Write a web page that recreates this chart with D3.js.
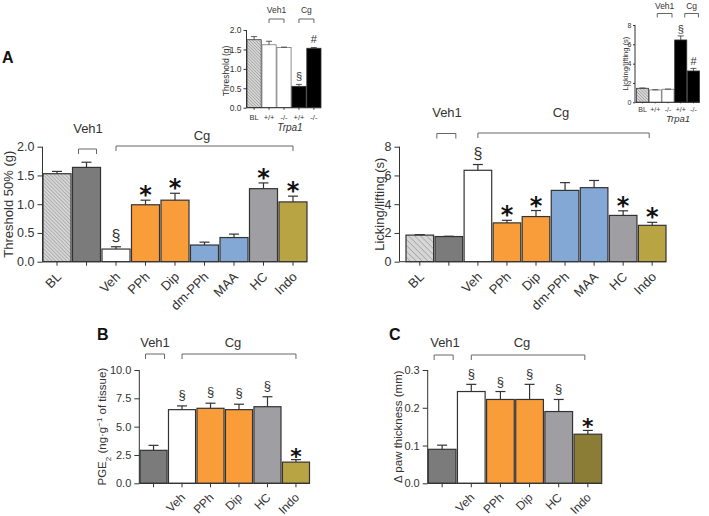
<!DOCTYPE html>
<html><head><meta charset="utf-8">
<script src="https://cdn.jsdelivr.net/npm/d3@7"></script>
<style>body{margin:0;background:#fff}svg{display:block}text{font-family:"Liberation Sans",Arial,sans-serif;fill:#333}</style>
</head><body><svg id="c" width="709" height="516"></svg>
<script>
// ---------- DATA ----------
const catsA = ["BL","","Veh","PPh","Dip","dm-PPh","MAA","HC","Indo"];
const threshA = [1.53,1.64,0.22,0.99,1.07,0.29,0.42,1.27,1.04];
const threshAErr = [0.04,0.09,0.04,0.08,0.12,0.05,0.06,0.10,0.10];
const lickA = [1.85,1.75,6.36,2.70,3.14,4.96,5.15,3.22,2.53];
const lickAErr = [0.03,0.02,0.40,0.18,0.42,0.54,0.50,0.32,0.21];
const colorsA = ["hatch","#7b7b7b","#ffffff","#f99d3a","#f99d3a","#84a8d6","#84a8d6","#9e9ea3","#b9a444"];
const marksThreshA = ["","","§","*","*","","","*","*"];
const marksLickA = ["","","§","*","*","","","*","*"];

const catsInset = ["BL","+/+","-/-","+/+","-/-"];
const threshInset = [1.75,1.62,1.55,0.55,1.53];
const threshInsetErr = [0.08,0.09,0.01,0.05,0.02];
const lickInset = [1.45,1.28,1.35,6.45,3.24];
const lickInsetErr = [0.03,0.02,0.02,0.42,0.27];
const colorsInset = ["hatch","#ffffff","#ffffff","#000000","#000000"];
const marksInset = ["","","","§","#"];

const catsBC = ["","Veh","PPh","Dip","HC","Indo"];
const pgeB = [2.91,6.50,6.62,6.50,6.76,1.87];
const pgeBErr = [0.44,0.33,0.45,0.48,0.88,0.22];
const colorsB = ["#7b7b7b","#ffffff","#f99d3a","#f99d3a","#9e9ea3","#b9a444"];
const marksB = ["","§","§","§","§","*"];
const pawC = [0.09,0.243,0.222,0.222,0.19,0.13];
const pawCErr = [0.011,0.019,0.021,0.040,0.032,0.010];
const colorsC = ["#7b7b7b","#ffffff","#f99d3a","#f99d3a","#9e9ea3","#8b7c36"];
const marksC = ["","§","§","§","§","*"];

const ticksThresh = [0,0.5,1.0,1.5,2.0];
const ticksLick = [0,2,4,6,8];
const ticksPGE = [0,2.5,5,7.5,10];
const ticksPaw = [0,0.1,0.2,0.3];

// ---------- DRAW ----------
const svg = d3.select("#c");
const defs = svg.append("defs");
function hatch(id, sp){
  const p = defs.append("pattern").attr("id",id).attr("patternUnits","userSpaceOnUse")
    .attr("width",sp).attr("height",sp).attr("patternTransform","rotate(-45)");
  p.append("rect").attr("width",sp).attr("height",sp).attr("fill","#d6d6d6");
  p.append("line").attr("x1",0).attr("y1",0).attr("x2",0).attr("y2",sp)
    .attr("stroke","#8c8c8c").attr("stroke-width",1);
}
hatch("h3",2.6); hatch("h5",4.2); hatch("h2",2.2);
let pathId = 0;

function panel(o){
  const g = svg.append("g");
  const n = o.vals.length;
  const x = d3.scaleBand().domain(d3.range(n)).range([o.b0,o.b1]).paddingInner(o.pad||0.05);
  const y = d3.scaleLinear().domain([0,o.max]).range([o.yb,o.yt]);
  const ink = "#333";
  g.selectAll("rect.bar").data(o.vals).join("rect")
    .attr("x",(d,i)=>x(i)).attr("width",x.bandwidth())
    .attr("y",d=>y(d)).attr("height",d=>y(0)-y(d))
    .attr("fill",(d,i)=>o.colors[i]==="hatch"?`url(#${o.hatch})`:o.colors[i])
    .attr("stroke",(d,i)=>o.colors[i]==="#ffffff"&&o.inset?"#777":ink).attr("stroke-width",o.inset?0.8:1.2);
  const cw = o.cap;
  o.vals.forEach((v,i)=>{
    const cx = x(i)+x.bandwidth()/2, t = y(v+o.errs[i]);
    g.append("line").attr("x1",cx).attr("x2",cx).attr("y1",y(v)).attr("y2",t).attr("stroke",ink).attr("stroke-width",o.inset?0.8:1.2);
    g.append("line").attr("x1",cx-cw/2).attr("x2",cx+cw/2).attr("y1",t).attr("y2",t).attr("stroke",ink).attr("stroke-width",o.inset?0.8:1.2);
    const m = o.marks[i];
    if(m){
      const fs = m==="*"?o.starFs:(m==="#"?o.hashFs:o.secFs);
      const off = m==="*"?o.starOff:(m==="#"?o.hashOff:o.secOff);
      g.append("text").attr("x",cx).attr("y",t-off).attr("text-anchor","middle")
        .style("font-size",fs+"px").style("font-weight",m==="*"?"bold":"normal")
        .style("font-family",m==="*"?"'DejaVu Sans',sans-serif":null)
        .style("fill",m==="*"?"#111":"#333").text(m);
    }
  });
  const ya = g.append("g").attr("transform",`translate(${o.ax},0)`)
    .call(d3.axisLeft(y).tickValues(o.ticks).tickFormat(d3.format(o.fmt)).tickSize(o.tick).tickSizeOuter(0).tickPadding(o.tpad));
  ya.select(".domain").attr("stroke",ink).attr("d",`M0,${o.yb}V${o.yt}`);
  ya.selectAll(".tick line").attr("stroke",ink);
  ya.selectAll(".tick text").style("font-size",o.tfs+"px").style("font-family","'Liberation Sans',Arial,sans-serif").attr("fill","#333");
  g.append("line").attr("x1",o.ax).attr("x2",o.b1).attr("y1",o.yb).attr("y2",o.yb).attr("stroke",ink).attr("stroke-width",1);
  o.vals.forEach((v,i)=>{
    const cx = x(i)+x.bandwidth()/2;
    g.append("line").attr("x1",cx).attr("x2",cx).attr("y1",o.yb).attr("y2",o.yb+o.tick-1).attr("stroke",ink);
    if(o.inset){
      g.append("text").attr("x",cx).attr("y",o.catY).attr("text-anchor","middle").style("font-size",o.cfs+"px").text(o.cats[i]);
    } else if(o.cats[i]){
      const ax = cx+o.lx, ay = o.yb+o.ly, L = 80, id = "lp"+(pathId++);
      defs.append("path").attr("id",id).attr("d",`M${ax-L*0.7071},${ay+L*0.7071}L${ax},${ay}`);
      g.append("text").style("font-size",o.cfs+"px").attr("text-anchor","end")
        .append("textPath").attr("href","#"+id).attr("startOffset","100%").text(o.cats[i]);
    }
  });
  const yl = g.append("g").attr("transform",`translate(${o.ylx},${(o.yt+o.yb)/2+(o.yloff||0)})`)
    .append("text").attr("transform","rotate(-90)")
    .attr("text-anchor","middle").style("font-size",o.ylfs+"px");
  o.ylab(yl);
  o.brackets.forEach(b=>{
    const c0 = x(b.i0)+x.bandwidth()/2 + (b.d0||0), c1 = x(b.i1)+x.bandwidth()/2 + (b.d1||0);
    g.append("path").attr("d",`M${c0},${b.y+b.h}V${b.y}H${c1}V${b.y+b.h}`).attr("fill","none").attr("stroke","#666").attr("stroke-width",1);
    g.append("text").attr("x",b.lx!=null?b.lx:(c0+c1)/2).attr("y",b.ty).attr("text-anchor","middle").style("font-size",b.fs+"px").text(b.label);
  });
  if(o.extra) o.extra(g,x);
}

panel({b0:43,b1:307,ax:42.5,yb:261.7,yt:146.7,max:2,vals:threshA,errs:threshAErr,colors:colorsA,marks:marksThreshA,cats:catsA,
  hatch:"h3",cap:10,starFs:24,starOff:-3,secFs:16,secOff:6,hashFs:14,hashOff:4,ticks:ticksThresh,fmt:".1f",tick:5,tpad:3,tfs:12.5,
  cfs:13,lx:5,ly:16,ylx:13,ylfs:13,ylab:t=>t.text("Threshold 50% (g)"),
  brackets:[{i0:1,i1:1,d0:-8,d1:10,y:149,h:5,label:"Veh1",ty:133,fs:13,lx:88},{i0:2,i1:8,y:146,h:5,label:"Cg",ty:140,fs:13,lx:202}]});
panel({b0:406,b1:666,ax:399.5,yb:261.7,yt:146.7,max:8,vals:lickA,errs:lickAErr,colors:colorsA,marks:marksLickA,cats:catsA,
  hatch:"h5",cap:10,starFs:24,starOff:-3,secFs:16,secOff:6,hashFs:14,hashOff:4,ticks:ticksLick,fmt:"d",tick:5,tpad:3,tfs:12.5,
  cfs:13,lx:5,ly:16,ylx:384,ylfs:13,ylab:t=>t.text("Licking/lifting (s)"),
  brackets:[{i0:1,i1:1,d0:-12,d1:7,y:133.5,h:5,label:"Veh1",ty:117,fs:13,lx:447},{i0:2,i1:8,d1:-3,y:133,h:5,label:"Cg",ty:117,fs:13,lx:561}]});
panel({inset:true,b0:247,b1:321,ax:246.5,yb:107.7,yt:30,max:2,vals:threshInset,errs:threshInsetErr,colors:colorsInset,marks:marksInset,cats:catsInset,
  hatch:"h2",cap:6,starFs:12,starOff:0,secFs:11,secOff:4,hashFs:11,hashOff:4,ticks:ticksThresh,fmt:".1f",tick:3,tpad:2,tfs:8.5,
  cfs:7.5,catY:120,ylx:229,ylfs:8.5,yloff:2,ylab:t=>t.text("Threshold (g)"),
  brackets:[{i0:1,i1:2,y:19,h:4,label:"Veh1",ty:13,fs:8.5},{i0:3,i1:4,y:19,h:4,label:"Cg",ty:13,fs:8.5}],
  extra:(g,x)=>g.append("text").attr("x",290).attr("y",131).attr("text-anchor","middle").style("font-size","10px").style("font-style","italic").text("Trpa1")});
panel({inset:true,b0:636.5,b1:699.5,ax:635,yb:102.3,yt:25,max:8,vals:lickInset,errs:lickInsetErr,colors:colorsInset,marks:marksInset,cats:catsInset,
  hatch:"h2",cap:6,starFs:12,starOff:0,secFs:11,secOff:3,hashFs:11,hashOff:3,ticks:ticksLick,fmt:"d",tick:2,tpad:1.5,tfs:7,
  cfs:7,catY:112,ylx:627.5,ylfs:7.5,yloff:0,ylab:t=>t.text("Licking/lifting (s)"),
  brackets:[{i0:1,i1:2,d0:2,d1:4,y:13.5,h:4,label:"Veh1",ty:9,fs:8.5},{i0:3,i1:4,d0:4,d1:5,y:13.5,h:4,label:"Cg",ty:9,fs:8.5}],
  extra:(g,x)=>g.append("text").attr("x",678).attr("y",122).attr("text-anchor","middle").style("font-size","9.5px").style("font-style","italic").text("Trpa1")});
panel({b0:140,b1:309.5,ax:139.3,yb:483.3,yt:370,max:10,vals:pgeB,errs:pgeBErr,colors:colorsB,marks:marksB,cats:catsBC,
  hatch:"h3",cap:10,starFs:22,starOff:-4,secFs:13,secOff:7,hashFs:14,hashOff:4,ticks:ticksPGE,fmt:".1f",tick:5,tpad:3,tfs:11,
  cfs:12,lx:4,ly:15,ylx:106,ylfs:11.5,ylab:t=>{t.append("tspan").text("PGE");t.append("tspan").attr("baseline-shift","sub").style("font-size","8px").text("2");
    t.append("tspan").text(" (ng·g");t.append("tspan").attr("baseline-shift","super").style("font-size","8px").text("−1");t.append("tspan").text(" of tissue)");},
  brackets:[{i0:0,i1:0,d0:-8,d1:11,y:354,h:5,label:"Veh1",ty:347,fs:13,lx:155},{i0:1,i1:5,y:354,h:5,label:"Cg",ty:347,fs:13,lx:233}]});
panel({b0:428.3,b1:601.7,ax:427.7,yb:483.3,yt:370,max:0.3,vals:pawC,errs:pawCErr,colors:colorsC,marks:marksC,cats:catsBC,
  hatch:"h3",cap:10,starFs:22,starOff:-4,secFs:13,secOff:6,hashFs:14,hashOff:4,ticks:ticksPaw,fmt:".1f",tick:5,tpad:3,tfs:11,
  cfs:12,lx:4,ly:15,ylx:402,ylfs:11.5,ylab:t=>t.text("Δ paw thickness (mm)"),
  brackets:[{i0:0,i1:0,d0:-8,d1:11,y:355,h:5,label:"Veh1",ty:347,fs:13,lx:445},{i0:1,i1:5,d1:-3,y:355,h:5,label:"Cg",ty:347,fs:13,lx:522}]});

[["A",2,63],["B",97,340],["C",389,340]].forEach(([t,x,y])=>svg.append("text").attr("x",x).attr("y",y)
  .style("font-size","16px").style("font-weight","bold").style("fill","#111").text(t));
</script></body></html>
